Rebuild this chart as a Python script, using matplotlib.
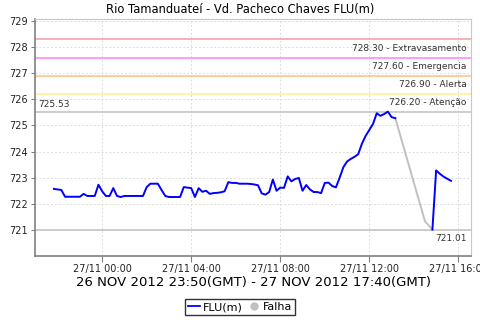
import numpy as np
import pandas as pd
import matplotlib
matplotlib.use("Agg")
import matplotlib.pyplot as plt
import matplotlib.dates as mdates
from matplotlib.lines import Line2D

# leituras a cada 10 min (hora local), 26/11 21:50 ate 27/11 15:40
inicio = "2012-11-26 21:50"
fim = "2012-11-27 15:40"
nivel = [
    722.57, 722.55, 722.53, 722.27, 722.27, 722.27, 722.27, 722.27, 722.38, 722.30,
    722.30, 722.30, 722.73, 722.48, 722.30, 722.30, 722.60, 722.30, 722.26, 722.30,
    722.30, 722.30, 722.30, 722.30, 722.30, 722.64, 722.77, 722.77, 722.77, 722.53,
    722.30, 722.26, 722.26, 722.26, 722.26, 722.64, 722.62, 722.60, 722.26, 722.60,
    722.46, 722.50, 722.38, 722.41, 722.42, 722.44, 722.48, 722.83, 722.80, 722.80,
    722.77,
    722.77, 722.77, 722.76, 722.74, 722.71, 722.40, 722.35, 722.45, 722.93, 722.50,
    722.62, 722.61, 723.05, 722.86, 722.95, 722.99, 722.50, 722.72, 722.55, 722.45,
    722.45, 722.41, 722.80, 722.81, 722.68, 722.63, 723.00, 723.40, 723.62, 723.72,
    723.80, 723.90, 724.30, 724.60, 724.83, 725.06, 725.47, 725.37, 725.44, 725.53,
    725.32, 725.28,
    None, None, None, None, None, None, None, None, None,
    721.01, 723.28, 723.15, 723.04, 722.96, 722.88,
]

# trecho de falha
falha_t = ["2012-11-27 13:10", "2012-11-27 14:30", "2012-11-27 14:50"]
falha_v = [725.28, 721.33, 721.01]

# cotas de referencia
cotas = [728.30, 727.60, 726.90, 726.20]
cotas_txt = ["728.30 - Extravasamento", "727.60 - Emergencia", "726.90 - Alerta", "726.20 - Atenção"]
cotas_cor = ["#f0a0a0", "#ff80ff", "#ffc080", "#fff08a"]
maximo = 725.53
minimo = 721.01

tempo = pd.date_range(inicio, fim, freq="10min")
valores = np.array([np.nan if v is None else v for v in nivel])

fig = plt.figure(figsize=(4.8, 3.2), dpi=100)
ax = fig.add_axes([35/480, 64/320, 436/480, 237/320])

ax.set_ylim(720.0, 729.08)
ax.set_xlim(pd.Timestamp("2012-11-26 20:59"), pd.Timestamp("2012-11-27 16:34"))

for c, txt, cor in zip(cotas, cotas_txt, cotas_cor):
    ax.axhline(c, color=cor, lw=1.1, zorder=2)
    ax.annotate(txt, xy=(1, c), xycoords=ax.get_yaxis_transform(),
                xytext=(-3, -3), textcoords="offset points",
                ha="right", va="top", fontsize=6.5, color="#333333")

ax.axhline(maximo, color="#c0c0c0", lw=1.1, zorder=2)
ax.annotate(f"{maximo:.2f}", xy=(0, maximo), xycoords=ax.get_yaxis_transform(),
            xytext=(2, 2), textcoords="offset points",
            ha="left", va="bottom", fontsize=6.5, color="#333333")
ax.axhline(minimo, color="#c0c0c0", lw=1.1, zorder=2)
ax.annotate(f"{minimo:.2f}", xy=(1, minimo), xycoords=ax.get_yaxis_transform(),
            xytext=(-3, -3), textcoords="offset points",
            ha="right", va="top", fontsize=6.5, color="#333333")

ax.plot(pd.to_datetime(falha_t), falha_v, color="#c0c0c0", lw=1.4, zorder=3)
ax.plot(tempo, valores, color="#0000ff", lw=1.4, zorder=4)

ax.set_yticks(range(721, 730))
ax.xaxis.set_major_locator(mdates.HourLocator(byhour=[0, 4, 8, 12, 16]))
ax.xaxis.set_major_formatter(mdates.DateFormatter("%d/%m %H:%M"))
ax.tick_params(axis="both", labelsize=7, length=3, color="#808080", pad=2, labelcolor="#222222")
ax.tick_params(axis="x", length=4, pad=1.5)

ax.grid(True, color="#dcdcdc", lw=0.7, ls=(0, (2, 2)))
for lado in ["left", "bottom"]:
    ax.spines[lado].set_color("#808080")
    ax.spines[lado].set_linewidth(1.2)
for lado in ["top", "right"]:
    ax.spines[lado].set_color("#c8c8c8")
    ax.spines[lado].set_linewidth(0.8)

fig.text(0.5, 1 - 9/320, "Rio Tamanduateí - Vd. Pacheco Chaves FLU(m)",
         ha="center", va="center", fontsize=8.3)
ax.set_xlabel("26 NOV 2012 23:50(GMT) - 27 NOV 2012 17:40(GMT)", fontsize=9.5, labelpad=1.5)

alcas = [Line2D([], [], color="#0000ff", lw=1.3),
         Line2D([], [], color="#c0c0c0", marker="o", ls="none", markersize=5)]
leg = fig.legend(alcas, ["FLU(m)", "Falha"], loc="center", bbox_to_anchor=(0.5, 1 - 307/320),
                 ncol=2, fontsize=8, frameon=True, fancybox=False, edgecolor="black",
                 handlelength=1.1, handletextpad=0.3, columnspacing=0.4,
                 borderpad=0.25, borderaxespad=0)
leg.get_frame().set_linewidth(1.0)

fig.savefig("out.png", dpi=100)
